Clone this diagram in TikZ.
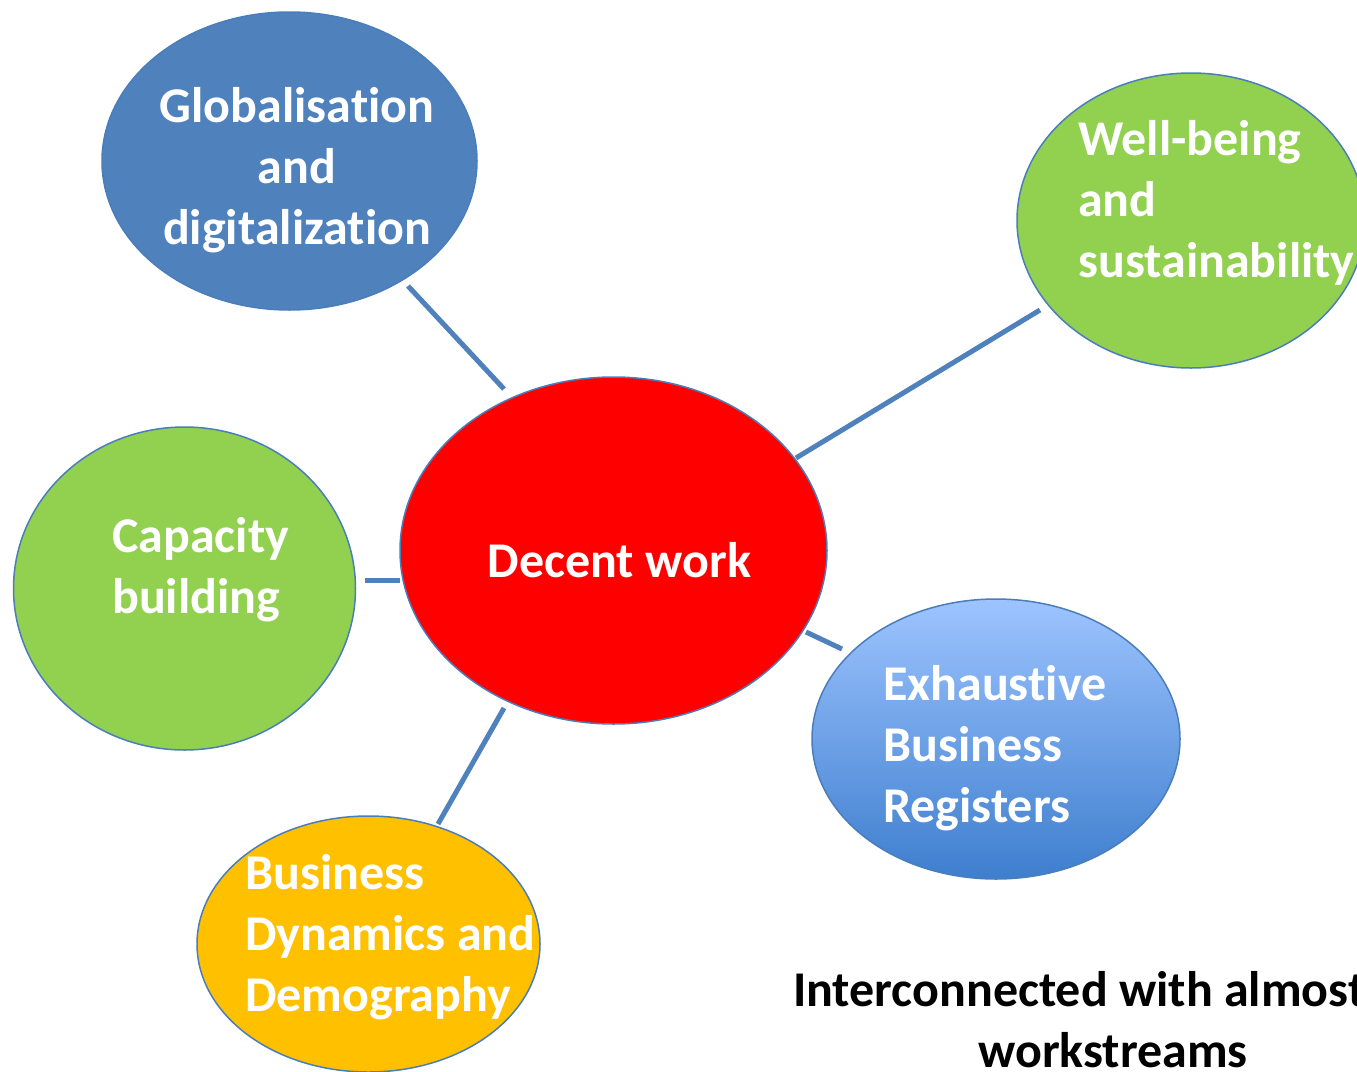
\documentclass[tikz,border=0pt]{standalone}
\usepackage{fontspec}
\setmainfont{Carlito}[Ligatures=NoCommon]
\usetikzlibrary{shapes.geometric}

\definecolor{linkblue}{RGB}{79,129,189}
\definecolor{rimblue}{RGB}{74,126,187}
\definecolor{globblue}{RGB}{79,129,189}
\definecolor{leafgreen}{RGB}{146,208,80}
\definecolor{hotred}{RGB}{255,0,0}
\definecolor{amber}{RGB}{255,192,0}
\definecolor{skytop}{RGB}{157,196,255}
\definecolor{skybottom}{RGB}{62,126,206}

\tikzset{
  bubble/.style={ellipse, draw=rimblue, line width=1.5pt, inner sep=0pt},
  link/.style={draw=linkblue, line width=5pt},
  label/.style={text=white, font=\fontsize{50}{61}\selectfont\bfseries, inner sep=0pt},
  note/.style={text=black, font=\fontsize{50}{61}\selectfont\bfseries, inner sep=0pt},
}

\begin{document}
\begin{tikzpicture}[x=1pt, y=-1pt]
  \useasboundingbox (0,0) rectangle (1357,1071);
  \fill[white] (0,0) rectangle (1357,1071);

  % bubbles
  \node[bubble, fill=globblue, minimum width=375pt, minimum height=298pt] (glob) at (289.5,161) {};
  \node[bubble, fill=leafgreen, minimum width=348pt, minimum height=295pt] (well) at (1191,220.5) {};
  \node[bubble, fill=leafgreen, minimum width=342pt, minimum height=323pt] (cap) at (184.5,588.5) {};
  \node[bubble, fill=hotred, minimum width=427pt, minimum height=347pt] (decent) at (613.5,550.5) {};
  \node[bubble, top color=skytop, bottom color=skybottom, minimum width=368pt, minimum height=280pt] (reg) at (996,739) {};
  \node[bubble, fill=amber, minimum width=343pt, minimum height=256pt] (dyn) at (368.5,944) {};

  % connector ends
  \coordinate (glob-end) at (408,286);
  \coordinate (well-end) at (1040,310);
  \coordinate (cap-end) at (365,580);
  \coordinate (reg-end) at (842,649);
  \coordinate (dyn-end) at (438,824);
  \coordinate (decent-nw) at (504,389);
  \coordinate (decent-ne) at (796,458);
  \coordinate (decent-w) at (400,580);
  \coordinate (decent-se) at (806,632);
  \coordinate (decent-sw) at (504,708);

  \draw[link] (glob-end) -- (decent-nw);
  \draw[link] (well-end) -- (decent-ne);
  \draw[link] (cap-end) -- (decent-w);
  \draw[link] (reg-end) -- (decent-se);
  \draw[link] (dyn-end) -- (decent-sw);

  % labels (base anchor sits on the last line)
  \node[label, align=center, anchor=base] (glob-text) at (297,244) {Globalisation\\and\\digitalization};
  \node[label, align=left, anchor=base west] (well-text) at (1078,277) {Well-being\\and\\sustainability};
  \node[label, align=left, anchor=base west] (cap-text) at (112,613) {Capacity\\building};
  \node[label, anchor=base] (decent-text) at (619.5,577) {Decent work};
  \node[label, align=left, anchor=base west] (reg-text) at (883,822) {Exhaustive\\Business\\Registers};
  \node[label, align=left, anchor=base west] (dyn-text) at (245,1011) {Business\\Dynamics and\\Demography};

  \node[note, anchor=base west] (note-1) at (793,1006) {Interconnected with almost};
  \node[note, anchor=base] (note-2) at (1113,1067) {workstreams};
\end{tikzpicture}
\end{document}
